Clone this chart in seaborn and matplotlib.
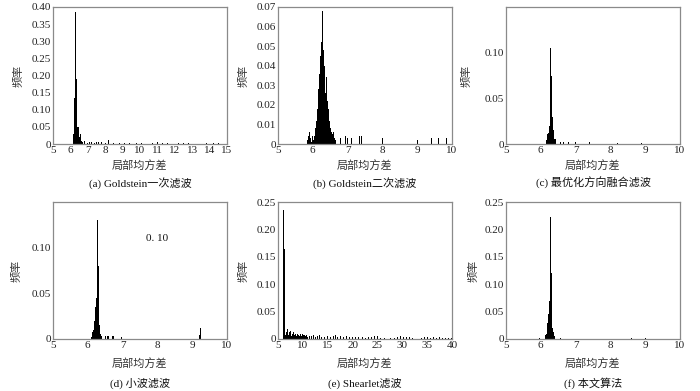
import numpy as np
import pandas as pd
import matplotlib
matplotlib.use("Agg")
import matplotlib.pyplot as plt
import seaborn as sns

# ---------------- data (bin centres and relative frequencies) ----------------
a_x = [6.15, 6.2, 6.25, 6.3, 6.35, 6.4, 6.45, 6.5, 6.55, 6.6, 6.65, 6.7, 6.8, 6.9,
       7.0, 7.1, 7.2, 7.3, 7.4, 7.5, 7.6, 7.7, 7.8, 8.0, 8.2, 8.5, 8.8, 9.1, 9.4,
       9.8, 10.1, 10.4, 10.7, 11.0, 11.3, 11.6, 11.9, 12.2, 12.5, 12.8, 13.1,
       13.8, 14.2, 14.5]
a_y = [0.002, 0.03, 0.135, 0.385, 0.19, 0.05, 0.05, 0.02, 0.01, 0.03, 0.01, 0.006,
       0.008, 0.006, 0.004, 0.007, 0.005, 0.006, 0.004, 0.006, 0.005, 0.004, 0.006,
       0.003, 0.011, 0.004, 0.003, 0.003, 0.002, 0.003, 0.002, 0.002, 0.002, 0.006,
       0.002, 0.003, 0.004, 0.003, 0.004, 0.003, 0.003, 0.002, 0.003, 0.003]

b_x = [5.85, 5.875, 5.9, 5.925, 5.975, 6.0, 6.025, 6.05, 6.075, 6.1, 6.125, 6.15,
       6.175, 6.2, 6.225, 6.25, 6.275, 6.3, 6.325, 6.35, 6.375, 6.4, 6.425, 6.45,
       6.475, 6.5, 6.525, 6.55, 6.575, 6.6, 6.625, 6.65, 6.8, 6.95, 7.0, 7.1,
       7.35, 7.4, 8.0, 9.0, 9.4, 9.6, 9.85]
b_y = [0.002, 0.004, 0.006, 0.003, 0.001, 0.004, 0.002, 0.004, 0.008, 0.012, 0.018,
       0.022, 0.028, 0.036, 0.045, 0.052, 0.068, 0.048, 0.040, 0.044, 0.026, 0.034,
       0.022, 0.018, 0.012, 0.008, 0.006, 0.004, 0.005, 0.006, 0.003, 0.002, 0.003,
       0.004, 0.003, 0.003, 0.004, 0.004, 0.003, 0.002, 0.003, 0.003, 0.003]

c_x = [6.16, 6.18, 6.2, 6.22, 6.24, 6.26, 6.28, 6.3, 6.32, 6.34, 6.36, 6.38, 6.4,
       6.42, 6.44, 6.56, 6.66, 6.8, 7.0, 7.1, 7.4, 7.9, 8.2, 8.9]
c_y = [0.004, 0.010, 0.011, 0.012, 0.020, 0.045, 0.105, 0.075, 0.055, 0.030, 0.015,
       0.008, 0.006, 0.005, 0.003, 0.002, 0.002, 0.002, 0.002, 0.002, 0.002, 0.001,
       0.001, 0.001]

d_x = [6.1, 6.14, 6.16, 6.18, 6.2, 6.22, 6.24, 6.26, 6.28, 6.3, 6.32, 6.34, 6.36,
       6.38, 6.4, 6.44, 6.5, 6.56, 6.6, 6.64, 6.7, 6.74, 6.96, 7.3, 9.2, 9.24]
d_y = [0.002, 0.008, 0.010, 0.012, 0.020, 0.035, 0.045, 0.060, 0.130, 0.080, 0.030,
       0.015, 0.006, 0.004, 0.003, 0.003, 0.003, 0.003, 0.003, 0.003, 0.003, 0.003,
       0.002, 0.002, 0.004, 0.012]

e_x = [6.2, 6.4, 6.6, 6.8, 7.0, 7.2, 7.4, 7.6, 7.8, 8.0, 8.2, 8.4, 8.6, 8.8, 9.0,
       9.2, 9.4, 9.6, 9.8, 10.0, 10.2, 10.4, 10.6, 10.8, 11.0, 11.4, 11.8, 12.2,
       12.6, 13.0, 13.4, 13.8, 14.4, 15.0, 15.6, 16.2, 16.6, 17.0, 17.6, 18.2, 18.8,
       19.4, 20.0, 20.6, 21.2, 22.0, 22.6, 23.2, 23.8, 24.4, 25.0, 25.6, 26.4, 27.6,
       28.4, 29.0, 29.6, 30.2, 30.8, 31.4, 32.0, 33.8, 34.4, 35.0, 35.6, 36.2, 36.8,
       37.4, 38.0, 38.6, 39.2, 39.8]
e_y = [0.235, 0.165, 0.008, 0.012, 0.018, 0.008, 0.012, 0.015, 0.006, 0.010, 0.012,
       0.008, 0.010, 0.006, 0.010, 0.008, 0.005, 0.009, 0.006, 0.009, 0.007, 0.008,
       0.005, 0.007, 0.004, 0.006, 0.005, 0.007, 0.004, 0.006, 0.008, 0.003, 0.004,
       0.005, 0.004, 0.005, 0.007, 0.004, 0.006, 0.004, 0.005, 0.004, 0.003, 0.004,
       0.003, 0.003, 0.002, 0.004, 0.003, 0.006, 0.005, 0.002, 0.002, 0.002, 0.002,
       0.003, 0.005, 0.004, 0.003, 0.003, 0.002, 0.002, 0.004, 0.003, 0.002, 0.003,
       0.002, 0.003, 0.002, 0.002, 0.002, 0.002]

f_x = [5.86, 5.96, 6.12, 6.14, 6.16, 6.18, 6.2, 6.22, 6.24, 6.26, 6.28, 6.3, 6.32,
       6.34, 6.36, 6.38, 6.4, 6.44, 6.56, 6.72, 8.6, 9.0]
f_y = [0.002, 0.002, 0.005, 0.008, 0.010, 0.015, 0.030, 0.045, 0.070, 0.160, 0.222,
       0.120, 0.050, 0.020, 0.012, 0.008, 0.005, 0.003, 0.002, 0.003, 0.001, 0.001]

bin_w = [0.05, 0.025, 0.02, 0.02, 0.2, 0.02]
captions = ["(a) Goldstein一次滤波", "(b) Goldstein二次滤波", "(c) 最优化方向融合滤波",
            "(d) 小波滤波", "(e) Shearlet滤波", "(f) 本文算法"]
xlims = [(5, 15), (5, 10), (5, 10), (5, 10), (5, 40), (5, 10)]
xticks = [list(range(5, 16)), list(range(5, 11)), list(range(5, 11)),
          list(range(5, 11)), list(range(5, 41, 5)), list(range(5, 11))]
ylims = [0.40, 0.07, 0.15, 0.15, 0.25, 0.25]
yticks = [[0, 0.05, 0.10, 0.15, 0.20, 0.25, 0.30, 0.35, 0.40],
          [0, 0.01, 0.02, 0.03, 0.04, 0.05, 0.06, 0.07],
          [0, 0.05, 0.10], [0, 0.05, 0.10],
          [0, 0.05, 0.10, 0.15, 0.20, 0.25],
          [0, 0.05, 0.10, 0.15, 0.20, 0.25]]
xlabel = "局部均方差"
ylabel = "频率"
note_text = "0. 10"

series = [(a_x, a_y), (b_x, b_y), (c_x, c_y), (d_x, d_y), (e_x, e_y), (f_x, f_y)]

# ---------------- style ----------------
sns.set_style("white")
plt.rcParams["font.family"] = ["Liberation Serif", "Noto Sans CJK SC", "DejaVu Sans"]
FS = 8

W, H = 700, 391
fig = plt.figure(figsize=(W / 100, H / 100), dpi=100)

# axes boxes in pixels: (left, top, right, bottom)
boxes = [(53, 7, 227, 144), (278, 7, 452, 144), (506, 7, 680, 144),
         (53, 202, 227, 339), (278, 202, 452, 339), (506, 202, 680, 339)]
ylab_off = [-0.172, -0.167, -0.20, -0.18, -0.17, -0.155]
row_off = [(21, 39), (21, 39), (21, 39), (24, 44), (24, 44), (24, 44)]

for i, ((xs, ys), box) in enumerate(zip(series, boxes)):
    l, t, r, b = box
    ax = fig.add_axes([l / W, 1 - b / H, (r - l) / W, (b - t) / H])
    w = bin_w[i]
    lo = min(xs) - w / 2
    nbins = int(round((max(xs) - min(xs)) / w)) + 1
    df = pd.DataFrame({"val": xs, "freq": ys})
    sns.histplot(data=df, x="val", weights="freq", binwidth=w,
                 binrange=(lo, lo + nbins * w), ax=ax,
                 color="black", edgecolor="none", alpha=1.0, stat="count")
    ax.set_xlim(*xlims[i])
    ax.set_ylim(0, ylims[i])
    ax.set_xticks(xticks[i])
    ax.set_xticklabels([str(v) for v in xticks[i]], fontsize=FS)
    ax.set_yticks(yticks[i])
    ax.set_yticklabels(["0" if v == 0 else f"{v:.2f}" for v in yticks[i]], fontsize=FS)
    ax.tick_params(length=0, pad=1.5, colors="#222222")
    for sp in ax.spines.values():
        sp.set_color("#8a8a8a")
        sp.set_linewidth(0.9)
    ax.set_ylabel(ylabel, fontsize=FS, color="#333333")
    ax.yaxis.set_label_coords(ylab_off[i], 0.5)
    hpx = b - t
    ax.set_xlabel(xlabel, fontsize=FS, color="#333333", va="center")
    ax.xaxis.set_label_coords(0.5, -row_off[i][0] / hpx)
    ax.text(0.5, -row_off[i][1] / hpx, captions[i], transform=ax.transAxes,
            ha="center", va="center", fontsize=FS, color="#111111")
    if i == 3:
        ax.text(8.0, 0.11, note_text, ha="center", va="center", fontsize=FS,
                color="#111111")

fig.savefig("out.png", dpi=100)
